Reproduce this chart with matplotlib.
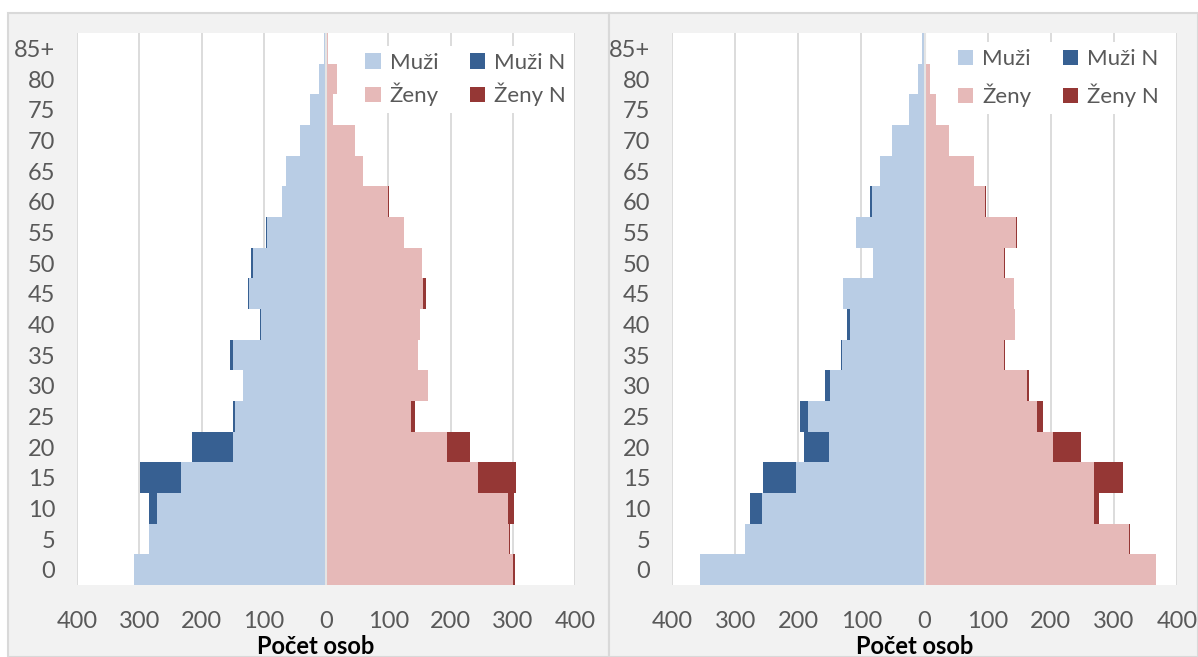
import matplotlib.pyplot as plt
from matplotlib.patches import Rectangle
import numpy as np

# Age groups (bottom to top)
ages = ['0', '5', '10', '15', '20', '25', '30', '35', '40', '45',
        '50', '55', '60', '65', '70', '75', '80', '85+']

# Left pyramid
left_muzi = [308, 285, 271, 233, 150, 146, 133, 150, 104, 123, 118, 94, 71, 64, 42, 25, 11, 3]
left_muzi_n = [1, 0, 13, 65, 66, 4, 1, 5, 2, 3, 2, 2, 0, 0, 0, 0, 0, 0]
left_zeny = [301, 294, 293, 244, 194, 137, 164, 148, 151, 156, 155, 125, 100, 60, 47, 12, 17, 4]
left_zeny_n = [3, 1, 9, 61, 38, 6, 0, 0, 0, 4, 0, 0, 2, 0, 0, 0, 0, 0]

# Right pyramid
right_muzi = [355, 284, 257, 204, 152, 185, 150, 130, 118, 129, 81, 108, 83, 70, 51, 25, 10, 4]
right_muzi_n = [0, 1, 20, 52, 39, 13, 7, 2, 5, 0, 0, 0, 3, 0, 0, 0, 0, 0]
right_zeny = [366, 324, 269, 269, 203, 178, 163, 126, 143, 141, 126, 145, 96, 78, 39, 19, 9, 2]
right_zeny_n = [1, 1, 7, 45, 45, 10, 3, 2, 0, 0, 2, 2, 2, 0, 0, 0, 0, 0]

xticks = [-400, -300, -200, -100, 0, 100, 200, 300, 400]

c_muzi = '#B9CDE5'
c_muzi_n = '#376092'
c_zeny = '#E6B9B8'
c_zeny_n = '#953735'
c_text = '#595959'

plt.rcParams['font.family'] = ['Lato', 'DejaVu Sans']

fig = plt.figure(figsize=(11.98, 6.57), dpi=100)
W, H = 1198, 657

# gray chart backgrounds
for x0, x1 in [(8, 609), (609, 1198)]:
    fig.patches.append(Rectangle((x0 / W, 0), (x1 - x0) / W, 1 - 13 / H,
                                 transform=fig.transFigure, facecolor='#F2F2F2',
                                 edgecolor='#D9D9D9', linewidth=1.5, zorder=-10))

def pyramid(ax, muzi, muzi_n, zeny, zeny_n, leg_x, leg_y, leg_sp):
    y = np.arange(len(ages))
    muzi = np.array(muzi)
    zeny = np.array(zeny)
    ax.barh(y, -muzi, height=1.0, color=c_muzi, label='Muži', zorder=2)
    ax.barh(y, zeny, height=1.0, color=c_zeny, label='Ženy', zorder=2)
    ax.barh(y, -np.array(muzi_n), left=-muzi, height=1.0, color=c_muzi_n, label='Muži N', zorder=2)
    ax.barh(y, zeny_n, left=zeny, height=1.0, color=c_zeny_n, label='Ženy N', zorder=2)
    ax.axvline(0, color='#E4E4E4', lw=1.5, zorder=3)

    ax.set_xlim(-400, 400)
    ax.set_ylim(-0.5, len(ages) - 0.5)
    ax.set_xticks(xticks)
    ax.set_xticklabels([str(abs(v)) for v in xticks])
    ax.set_yticks(y)
    ax.set_yticklabels(ages)
    ax.tick_params(length=0, labelsize=17, labelcolor=c_text)
    ax.tick_params(axis='y', pad=15.5)
    ax.tick_params(axis='x', pad=19)
    for s in ax.spines.values():
        s.set_visible(False)
    ax.grid(axis='x', color='#D9D9D9', lw=1.3, zorder=1)
    ax.set_axisbelow(True)
    ax.set_facecolor('white')
    ax.set_xlabel('Počet osob', fontsize=17, fontweight='bold', labelpad=0)
    ax.xaxis.set_label_coords(0.48, -0.09)

    handles, labels = ax.get_legend_handles_labels()
    leg = ax.legend(handles, labels, ncol=2, loc='upper left',
                    bbox_to_anchor=(leg_x, leg_y), fontsize=16, frameon=True,
                    fancybox=False, edgecolor='none', facecolor='white', framealpha=1,
                    handlelength=0.7, handleheight=0.7, handletextpad=0.4,
                    columnspacing=1.4, labelspacing=leg_sp, borderpad=0.3,
                    labelcolor=c_text)
    leg.set_zorder(5)

ax1 = fig.add_axes([77 / W, 1 - 585 / H, (575 - 77) / W, (585 - 33) / H])
pyramid(ax1, left_muzi, left_muzi_n, left_zeny, left_zeny_n, 0.543, 0.996, 0.45)

ax2 = fig.add_axes([672 / W, 1 - 585 / H, (1177 - 672) / W, (585 - 33) / H])
pyramid(ax2, right_muzi, right_muzi_n, right_zeny, right_zeny_n, 0.531, 1.003, 0.65)

plt.savefig('out.png', dpi=100)
